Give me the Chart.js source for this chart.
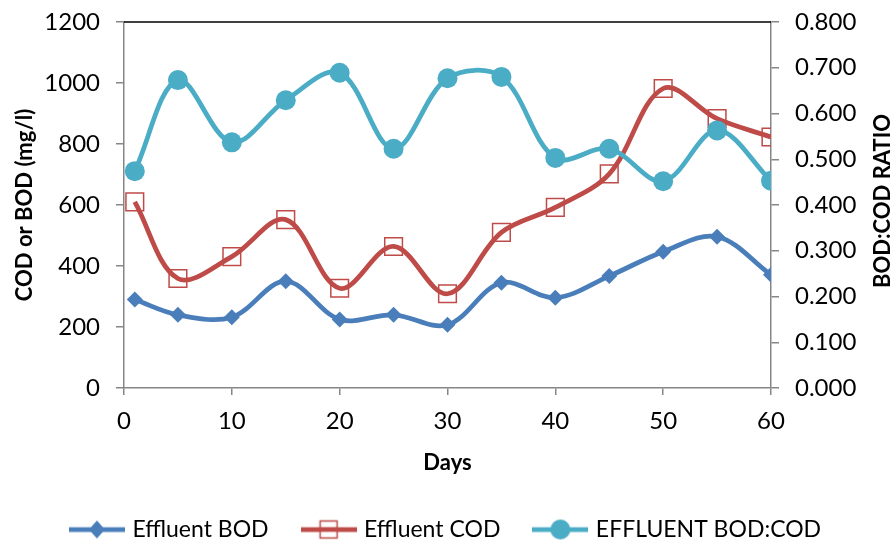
<!DOCTYPE html>
<html>
<head>
<meta charset="utf-8">
<script src="https://cdn.jsdelivr.net/npm/chart.js@4.4.0/dist/chart.umd.min.js"></script>
<style>
  html, body { margin: 0; padding: 0; background: #fff; }
  #wrap { width: 894px; height: 549px; position: relative; }
</style>
</head>
<body>
<div id="wrap"><canvas id="chart"></canvas></div>
<script>
// data
const days = [1, 5, 10, 15, 20, 25, 30, 35, 40, 45, 50, 55, 60];
const effluentBOD = [290, 240, 232, 350, 225, 240, 207, 345, 296, 367, 447, 496, 371];
const effluentCOD = [610, 359, 431, 552, 327, 464, 309, 510, 592, 702, 982, 883, 823];
const bodCodRatio = [0.474, 0.673, 0.537, 0.629, 0.689, 0.523, 0.677, 0.680, 0.503, 0.523, 0.452, 0.563, 0.453];
const leftTicks = [0, 200, 400, 600, 800, 1000, 1200];
const rightTicks = [0, 0.1, 0.2, 0.3, 0.4, 0.5, 0.6, 0.7, 0.8];

const BLUE = '#4A7EBB';
const RED = '#BE4B48';
const TEAL = '#4BACC6';
const AXIS = '#868686';
const FONT = 'Lato, "Open Sans", sans-serif';

const toPoints = (ys) => ys.map((y, i) => ({ x: days[i], y: y }));

// legend swatch: line with the marker in the middle
function swatch(color, style) {
    const c = document.createElement('canvas');
    c.width = 56; c.height = 24;
    const g = c.getContext('2d');
    g.strokeStyle = color;
    g.lineWidth = 4.75;
    g.beginPath(); g.moveTo(0, 12); g.lineTo(56, 12); g.stroke();
    g.fillStyle = color;
    if (style === 'diamond') {
        g.beginPath(); g.moveTo(28, 3); g.lineTo(36, 12); g.lineTo(28, 21); g.lineTo(20, 12); g.closePath(); g.fill();
    } else if (style === 'square') {
        g.fillStyle = '#fff';
        g.fillRect(19, 3, 18, 18);
        g.lineWidth = 1.5;
        g.strokeRect(19.5, 3.5, 17, 17);
        g.lineWidth = 4.75;
        g.beginPath(); g.moveTo(19, 12); g.lineTo(37, 12); g.stroke();
    } else {
        g.beginPath(); g.arc(28, 12, 10, 0, Math.PI * 2); g.fill();
    }
    return c;
}
const swatches = [swatch(BLUE, 'diamond'), swatch(RED, 'square'), swatch(TEAL, 'circle')];

// black frame line on top of the plot, right title read bottom-to-top
const extras = {
    id: 'extras',
    afterLayout(chart) {
        if (chart.legend) { chart.legend.top += 2; chart.legend.bottom += 2; }
    },
    afterDraw(chart) {
        const a = chart.chartArea, ctx = chart.ctx;
        ctx.save();
        ctx.strokeStyle = '#000';
        ctx.lineWidth = 1.5;
        ctx.beginPath();
        ctx.moveTo(a.left, a.top);
        ctx.lineTo(a.right, a.top);
        ctx.stroke();
        ctx.translate(883, (a.top + a.bottom) / 2 - 4);
        ctx.rotate(-Math.PI / 2);
        ctx.fillStyle = '#000';
        ctx.font = 'bold 22px ' + FONT;
        ctx.textAlign = 'center';
        ctx.textBaseline = 'middle';
        ctx.fillText('BOD:COD RATIO', 0, 0);
        ctx.restore();
    }
};

// small lineHeight keeps the tick padding from pushing the plot top down
const yTickFont = { family: FONT, size: 24, lineHeight: 0.4 };

const ctx = document.getElementById('chart').getContext('2d');
const chart = new Chart(ctx, {
    type: 'line',
    data: {
        datasets: [{
            label: 'Effluent BOD',
            data: toPoints(effluentBOD),
            yAxisID: 'y',
            borderColor: BLUE,
            backgroundColor: BLUE,
            borderWidth: 4.75,
            pointStyle: 'rectRot',
            pointRadius: 8,
            pointBorderWidth: 0,
            order: 3
        }, {
            label: 'Effluent COD',
            data: toPoints(effluentCOD),
            yAxisID: 'y',
            borderColor: RED,
            backgroundColor: 'rgba(0,0,0,0)',
            borderWidth: 4.75,
            pointStyle: 'rect',
            pointRadius: 12.5,
            pointBorderWidth: 1.5,
            pointBorderColor: RED,
            order: 2
        }, {
            label: 'EFFLUENT BOD:COD',
            data: toPoints(bodCodRatio),
            yAxisID: 'y1',
            borderColor: TEAL,
            backgroundColor: TEAL,
            borderWidth: 4.75,
            pointStyle: 'circle',
            pointRadius: 10,
            pointBorderWidth: 0,
            order: 1
        }]
    },
    options: {
        responsive: true,
        maintainAspectRatio: false,
        animation: false,
        layout: { padding: { top: 22, left: 0, right: 0, bottom: 0 } },
        elements: { line: { tension: 0.35 } },
        plugins: {
            tooltip: { enabled: false },
            legend: {
                position: 'bottom',
                labels: {
                    usePointStyle: true,
                    pointStyleWidth: 48,
                    padding: 36,
                    color: '#000',
                    font: { family: FONT, size: 23 },
                    sort: (a, b) => a.datasetIndex - b.datasetIndex,
                    generateLabels: (ch) => ch.data.datasets.map((ds, i) => ({
                        text: ds.label,
                        pointStyle: swatches[i],
                        fillStyle: ds.borderColor,
                        strokeStyle: ds.borderColor,
                        lineWidth: 0,
                        hidden: false,
                        datasetIndex: i
                    }))
                }
            }
        },
        scales: {
            x: {
                type: 'linear',
                min: 0,
                max: 60,
                ticks: { stepSize: 10, color: '#000', padding: 12, font: { family: FONT, size: 24 } },
                grid: { drawOnChartArea: false, color: AXIS, tickLength: 7, lineWidth: 1.5 },
                border: { color: AXIS, width: 1.5 },
                title: { display: true, text: 'Days', color: '#000', font: { family: FONT, size: 22, weight: 'bold' } },
                afterFit: (s) => { s.height = 92; }
            },
            y: {
                position: 'left',
                min: 0,
                max: 1200,
                afterBuildTicks: (s) => { s.ticks = leftTicks.map(v => ({ value: v })); },
                ticks: { color: '#000', padding: 16, font: yTickFont, callback: (v) => String(v) },
                grid: { drawOnChartArea: false, color: AXIS, tickLength: 8, lineWidth: 1.5 },
                border: { color: AXIS, width: 1.5 },
                title: { display: true, text: 'COD or BOD (mg/l)', color: '#000', padding: { top: 12, bottom: 4 }, font: { family: FONT, size: 22, weight: 'bold' } },
                afterFit: (s) => { s.width = 124; }
            },
            y1: {
                position: 'right',
                min: 0,
                max: 0.8,
                afterBuildTicks: (s) => { s.ticks = rightTicks.map(v => ({ value: v })); },
                ticks: { color: '#000', padding: 16, font: yTickFont, callback: (v) => v.toFixed(3) },
                grid: { drawOnChartArea: false, color: AXIS, tickLength: 8, lineWidth: 1.5 },
                border: { color: AXIS, width: 1.5 },
                afterFit: (s) => { s.width = 123; }
            }
        }
    },
    plugins: [extras]
});
</script>
</body>
</html>
